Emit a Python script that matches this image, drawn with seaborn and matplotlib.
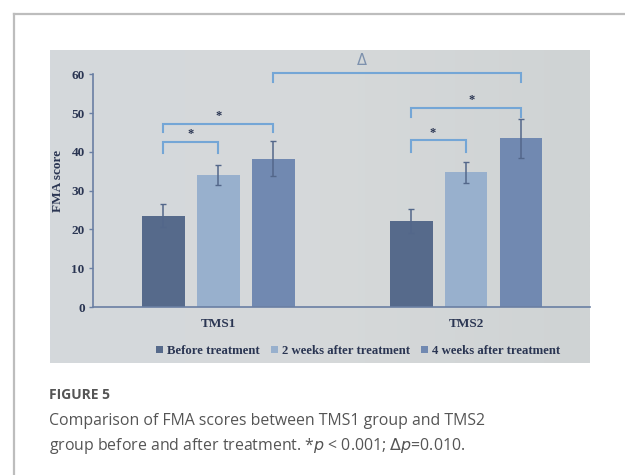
import numpy as np
import pandas as pd
import matplotlib
matplotlib.use("Agg")
import matplotlib.pyplot as plt
from matplotlib.lines import Line2D
import seaborn as sns

# ---- data ----
groups = ["TMS1", "TMS2"]
timepoints = ["Before treatment", "2 weeks after treatment", "4 weeks after treatment"]
tms1_mean = [23.6, 34.0, 38.3]
tms1_sd = [3.0, 2.5, 4.6]
tms2_mean = [22.2, 34.7, 43.5]
tms2_sd = [3.0, 2.6, 5.0]
bar_colors = ["#566a8b", "#98b0cd", "#7189b1"]

# significance brackets: (left bar, right bar, bracket level, leg end, label, label position)
brackets = [
    (0, 1, 42.5, 39.8, "*", 0.5),
    (0, 2, 47.2, 45.2, "*", 0.5),
    (3, 4, 43.0, 40.0, "*", 0.4),
    (3, 5, 51.3, 49.0, "*", 0.55),
    (2, 5, 60.3, 58.0, "\u0394", 0.36),
]

df = pd.DataFrame({
    "group": np.repeat(groups, len(timepoints)),
    "timepoint": timepoints * len(groups),
    "mean": tms1_mean + tms2_mean,
})

W, H = 625, 475
fig = plt.figure(figsize=(W / 100, H / 100), dpi=100)
fig.patch.set_facecolor("white")

def fx(px):
    return px / W

def fy(py):
    return 1 - py / H

# card border (top and left edges)
fig.add_artist(Line2D([fx(14), fx(14)], [fy(14), 0], color="#bdbdbd", lw=1.6,
                      transform=fig.transFigure))
fig.add_artist(Line2D([fx(14), 1], [fy(14), fy(14)], color="#bdbdbd", lw=1.6,
                      transform=fig.transFigure))

# chart panel background
panel = fig.add_axes([fx(50), fy(363), fx(590) - fx(50), fy(50) - fy(363)])
grad = np.linspace(0, 1, 256)[None, :]
panel.imshow(grad, aspect="auto", extent=[0, 1, 0, 1],
             cmap=matplotlib.colors.LinearSegmentedColormap.from_list(
                 "bg", ["#d4d8dc", "#d6d9da", "#cfd3d4"]))
panel.set_axis_off()

navy = "#2a3552"
serif = "Liberation Serif"

ax = fig.add_axes([fx(93), fy(307), fx(590) - fx(93), fy(55) - fy(307)])
ax.set_facecolor("none")
sns.barplot(data=df, x="group", y="mean", hue="timepoint", order=groups,
            hue_order=timepoints, palette=bar_colors, errorbar=None,
            width=0.665, gap=0.22, saturation=1, ax=ax, zorder=2)

ax.set_ylim(0, 65)
ax.set_xlim(-0.505, 1.5)

# error bars at the drawn bar centres (bars sorted left to right)
bars = sorted([p for p in ax.patches if p.get_height() > 0], key=lambda p: p.get_x())
centers = [p.get_x() + p.get_width() / 2 for p in bars]
heights = [p.get_height() for p in bars]
sds = tms1_sd + tms2_sd
ax.errorbar(centers, heights, yerr=sds, fmt="none", ecolor="#53678a",
            elinewidth=1.1, capsize=2.5, capthick=1.0, zorder=3)

# significance brackets
bcol = "#74a6d6"
for i, j, level, leg, label, pos in brackets:
    x0, x1 = centers[i], centers[j]
    ax.plot([x0, x0, x1, x1], [leg, level, level, leg], color=bcol, lw=1.5,
            clip_on=False, zorder=4, solid_joinstyle="miter")
    xm = x0 + pos * (x1 - x0)
    if label == "*":
        ax.text(xm, level + 2.0, "*", ha="center", va="center",
                fontsize=9, color=navy, family=serif, fontweight="bold")
    else:
        ax.text(xm, level + 3.2, label, ha="center", va="center",
                fontsize=10.5, color="#7d91ad", family="DejaVu Sans")

# axes styling
for s in ["top", "right"]:
    ax.spines[s].set_visible(False)
ax.spines["left"].set_bounds(0, 60)
ax.spines["left"].set_color("#6a7fa3")
ax.spines["bottom"].set_color("#6a7fa3")
ax.spines["left"].set_linewidth(1.2)
ax.spines["bottom"].set_linewidth(1.2)
ax.set_yticks(np.arange(0, 61, 10))
ax.tick_params(axis="y", length=3, width=1, color="#6a7fa3", pad=3,
               labelsize=9.5, labelcolor=navy)
ax.tick_params(axis="x", length=0, pad=8, labelsize=9.5, labelcolor=navy)
for lab in ax.get_yticklabels() + ax.get_xticklabels():
    lab.set_fontfamily(serif)
    lab.set_fontweight("bold")
ax.set_xlabel("")
ax.set_ylabel("FMA score", family=serif, fontweight="bold", fontsize=9.5,
              color=navy, labelpad=5)

sns.move_legend(ax, loc="center", bbox_to_anchor=(fx(358), fy(351)),
                bbox_transform=fig.transFigure, ncol=3, frameon=False,
                handlelength=0.55, handleheight=0.55, handletextpad=0.3,
                columnspacing=0.9, title=None,
                prop={"family": serif, "weight": "bold", "size": 9.2})
for t in ax.get_legend().get_texts():
    t.set_color(navy)

# caption
fig.text(fx(49), fy(395), "FIGURE 5", ha="left", va="center", fontsize=10,
         fontweight="bold", color="#555555", family="Open Sans")
fig.text(fx(49), fy(421), "Comparison of FMA scores between TMS1 group and TMS2",
         ha="left", va="center", fontsize=11.4, color="#555555", family="Open Sans")
fig.text(fx(49), fy(446),
         r"group before and after treatment. *$\it{p}$ < 0.001; $\Delta\it{p}$=0.010.",
         ha="left", va="center", fontsize=11.4, color="#555555", family="Open Sans")

fig.savefig("out.png", dpi=100, facecolor="white")
